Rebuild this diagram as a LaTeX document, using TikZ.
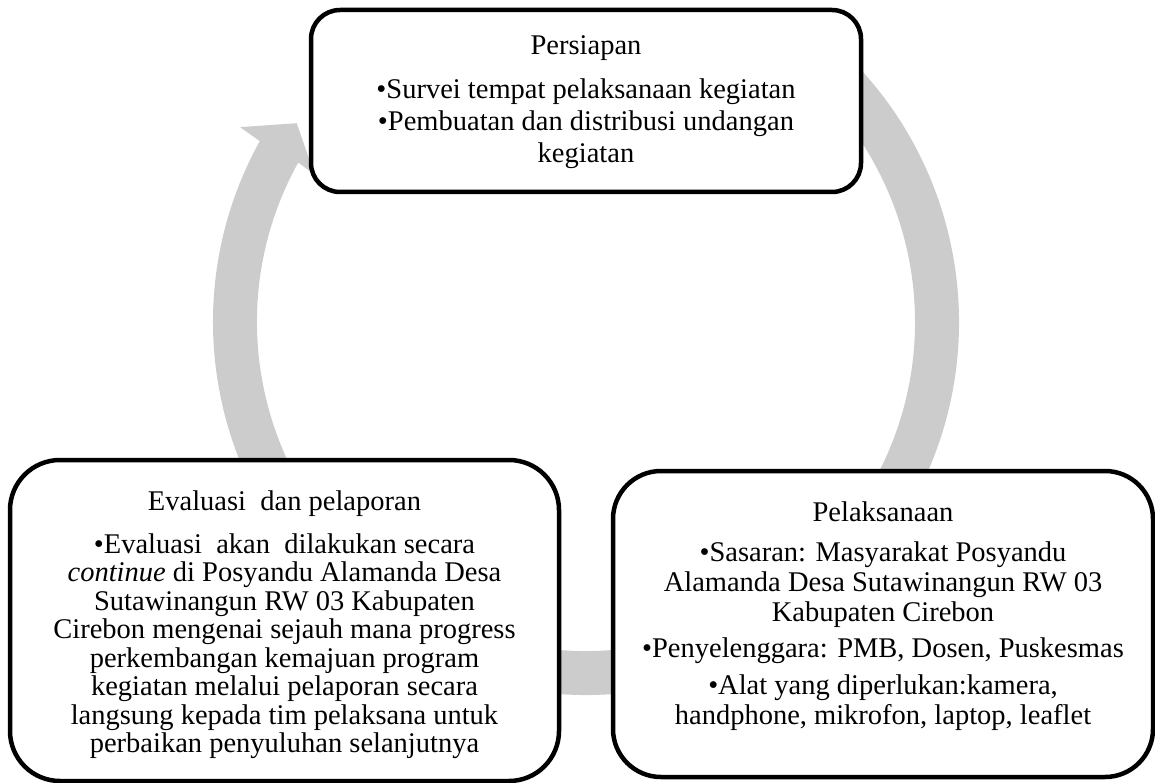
\documentclass[tikz,border=0pt]{standalone}
\usepackage{fontspec}
\setmainfont{Liberation Serif}
\usetikzlibrary{calc}
\definecolor{ringgray}{RGB}{204,204,204}
\begin{document}
\begin{tikzpicture}[x=1pt,y=-1pt,
  stagebox/.style={draw=black,fill=white,line width=4.5pt,inner sep=0pt},
  stagetext/.style={align=center,inner sep=0pt,anchor=north}]
\useasboundingbox (0,0) rectangle (1155,783);
\coordinate (c) at (586,322);
% cycle arrow
\fill[ringgray] ($(c)+(-54:373)$) arc[start angle=-54,end angle=209,radius=373]
  -- ($(c)+(209.4:397)$) -- ($(c)+(214.5:351)$) -- ($(c)+(208.5:309)$)
  -- ($(c)+(209:329)$) arc[start angle=209,end angle=-54,radius=329] -- cycle;
% boxes
\node[stagebox,rounded corners=29pt,minimum width=550pt,minimum height=182pt] (prep) at (586,101) {};
\node[stagebox,rounded corners=50pt,minimum width=549pt,minimum height=321pt] (eval) at (284.5,620.5) {};
\node[stagebox,rounded corners=48pt,minimum width=540pt,minimum height=306pt] (impl) at (883,624) {};
% texts
\node[stagetext,font=\fontsize{28.5}{32}\selectfont] (preptext) at (586,35.5) {Persiapan\\[12pt]
  •Survei tempat pelaksanaan kegiatan\\
  •Pembuatan dan distribusi undangan\\ kegiatan};
\node[stagetext,font=\fontsize{28.5}{28.5}\selectfont] (evaltext) at (284.5,490.5) {Evaluasi~ dan pelaporan\\[14.5pt]
  •Evaluasi~ akan~ dilakukan secara\\
  \textit{continue} di Posyandu Alamanda Desa\\
  Sutawinangun RW 03 Kabupaten\\
  Cirebon mengenai sejauh mana progress\\
  perkembangan kemajuan program\\
  kegiatan melalui pelaporan secara\\
  langsung kepada tim pelaksana untuk\\
  perbaikan penyuluhan selanjutnya};
\node[stagetext,font=\fontsize{28.5}{30}\selectfont] (impltext) at (883,501.5) {Pelaksanaan\\[10pt]
  •Sasaran: Masyarakat Posyandu\\
  Alamanda Desa Sutawinangun RW 03\\
  Kabupaten Cirebon\\[6pt]
  •Penyelenggara: PMB, Dosen, Puskesmas\\[7pt]
  •Alat yang diperlukan:kamera,\\
  handphone, mikrofon, laptop, leaflet};
\end{tikzpicture}
\end{document}
